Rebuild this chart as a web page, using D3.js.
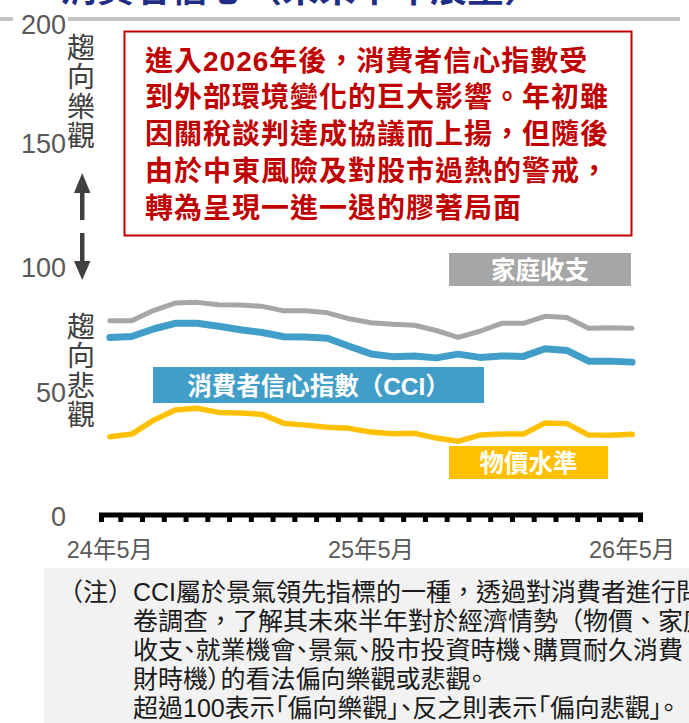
<!DOCTYPE html>
<html>
<head>
<meta charset="utf-8">
<script src="https://cdn.jsdelivr.net/npm/d3@7"></script>
<style>
  body { margin: 0; background: #fff; }
  svg { display: block; font-family: "Liberation Sans", "Noto Sans CJK TC", sans-serif; }
</style>
</head>
<body>
<div id="chart"></div>
<script>
// monthly points, 24年5月 .. 26年5月
const months = [
  "24年5月", "24年6月", "24年7月", "24年8月", "24年9月", "24年10月", "24年11月", "24年12月",
  "25年1月", "25年2月", "25年3月", "25年4月", "25年5月", "25年6月", "25年7月", "25年8月",
  "25年9月", "25年10月", "25年11月", "25年12月", "26年1月", "26年2月", "26年3月", "26年4月", "26年5月"
];
const tickMonths = ["24年5月", "25年5月", "26年5月"];
const yTicks = [0, 50, 100, 150, 200];

const household = [78.8, 78.8, 82.9, 85.9, 86.2, 85.2, 85.1, 84.6, 82.8, 82.8, 82.0, 79.6, 78.0,
  77.4, 77.0, 74.9, 72.1, 74.6, 77.8, 77.8, 80.6, 80.1, 75.8, 76.0, 75.8];
const cci = [72.1, 72.5, 75.5, 77.8, 77.8, 76.6, 75.2, 74.1, 72.4, 72.3, 71.8, 68.6, 65.5,
  64.4, 64.7, 63.9, 65.4, 64.1, 64.7, 64.5, 67.6, 66.9, 62.6, 62.6, 62.2];
const prices = [32.2, 33.3, 38.8, 43.0, 43.7, 42.0, 41.8, 41.2, 37.6, 36.9, 36.0, 35.6, 34.1,
  33.4, 33.6, 31.7, 30.4, 32.9, 33.3, 33.3, 37.8, 37.5, 32.9, 32.8, 33.2];

const seriesNames = ["家庭收支", "消費者信心指數（CCI）", "物價水準"];
const upLabel = ["趨", "向", "樂", "觀"];
const downLabel = ["趨", "向", "悲", "觀"];

const titleText = "消費者信心（未來半年展望）";
const calloutLines = [
  "進入2026年後，消費者信心指數受",
  "到外部環境變化的巨大影響。年初雖",
  "因關稅談判達成協議而上揚，但隨後",
  "由於中東風險及對股市過熱的警戒，",
  "轉為呈現一進一退的膠著局面"
];
const noteLines = [
  "（注）CCI屬於景氣領先指標的一種，透過對消費者進行問",
  "卷調查，了解其未來半年對於經濟情勢（物價、家庭",
  "收支、就業機會、景氣、股市投資時機、購買耐久消費",
  "財時機）的看法偏向樂觀或悲觀。",
  "超過100表示「偏向樂觀」、反之則表示「偏向悲觀」。"
];

var width = 689, height = 723;
var svg = d3.select("#chart").append("svg")
  .attr("width", width)
  .attr("height", height);

// title, mostly above the top edge
svg.append("text")
  .attr("x", 60).attr("y", 2)
  .attr("font-size", 37).attr("font-weight", "bold")
  .attr("fill", "#1f2d86")
  .text(titleText);

var x = d3.scaleBand().domain(months).range([99, 643]);
var y = d3.scaleLinear().domain([0, 200]).range([517, 19]);
var cx = function (i) { return x(months[i]) + x.bandwidth() / 2; };

// top gridline
svg.append("line")
  .attr("x1", 0).attr("x2", 680)
  .attr("y1", y(200)).attr("y2", y(200))
  .attr("stroke", "#c4c4c4").attr("stroke-width", 4);

// y tick labels
var yAxis = svg.append("g")
  .attr("transform", "translate(66,0)")
  .call(d3.axisLeft(y).tickValues(yTicks).tickSize(0).tickPadding(0));
yAxis.select(".domain").remove();
yAxis.selectAll("text")
  .attr("font-size", 27)
  .attr("font-family", "Liberation Sans, sans-serif")
  .attr("fill", "#595959");
var topTick = yAxis.selectAll(".tick").filter(function (d) { return d === 200; });
topTick.select("text").attr("y", 6);
topTick.insert("rect", "text")
  .attr("x", -53).attr("y", -6).attr("width", 55).attr("height", 30)
  .attr("fill", "#fff");

// vertical side labels
svg.append("g").selectAll("text")
  .data(upLabel).join("text")
  .attr("x", 81).attr("y", function (d, i) { return 48 + i * 29.6; })
  .attr("text-anchor", "middle").attr("dominant-baseline", "central")
  .attr("font-size", 28).attr("fill", "#404040")
  .text(function (d) { return d; });
svg.append("g").selectAll("text")
  .data(downLabel).join("text")
  .attr("x", 81).attr("y", function (d, i) { return 327 + i * 29.6; })
  .attr("text-anchor", "middle").attr("dominant-baseline", "central")
  .attr("font-size", 28).attr("fill", "#404040")
  .text(function (d) { return d; });

// arrows
svg.append("rect").attr("x", 80).attr("y", 190).attr("width", 4.5).attr("height", 30).attr("fill", "#404040");
svg.append("path").attr("d", "M82.2,173 L90.5,193 L74,193 Z").attr("fill", "#404040");
svg.append("rect").attr("x", 80).attr("y", 233).attr("width", 4.5).attr("height", 31).attr("fill", "#404040");
svg.append("path").attr("d", "M82.2,280 L90.5,261 L74,261 Z").attr("fill", "#404040");

// x axis: thick baseline with square ticks at month boundaries
var bounds = months.map(function (m) { return x(m); }).concat([x.range()[1]]);
svg.append("line")
  .attr("x1", x.range()[0]).attr("x2", x.range()[1])
  .attr("y1", y(0) - 2).attr("y2", y(0) - 2)
  .attr("stroke", "#000").attr("stroke-width", 5);
svg.append("g").selectAll("rect")
  .data(bounds).join("rect")
  .attr("x", function (d, i) { return i === 0 ? d : (i === bounds.length - 1 ? d - 5 : d - 2.5); })
  .attr("y", y(0) - 2)
  .attr("width", 5).attr("height", 7)
  .attr("fill", "#000");

var xAxis = svg.append("g")
  .attr("transform", "translate(0,541)")
  .call(d3.axisBottom(x).tickValues(tickMonths).tickSize(0).tickPadding(0));
xAxis.select(".domain").remove();
xAxis.selectAll("text")
  .attr("font-size", 23.5)
  .attr("font-family", "Liberation Sans, Noto Sans CJK TC, sans-serif")
  .attr("fill", "#595959");

// lines
var line = d3.line()
  .x(function (d, i) { return cx(i); })
  .y(function (d) { return y(d); });

svg.append("path").datum(household)
  .attr("d", line).attr("fill", "none")
  .attr("stroke", "#a6a6a6").attr("stroke-width", 5)
  .attr("stroke-linecap", "round").attr("stroke-linejoin", "round");
svg.append("path").datum(cci)
  .attr("d", line).attr("fill", "none")
  .attr("stroke", "#419ec8").attr("stroke-width", 7)
  .attr("stroke-linecap", "round").attr("stroke-linejoin", "round");
svg.append("path").datum(prices)
  .attr("d", line).attr("fill", "none")
  .attr("stroke", "#ffc000").attr("stroke-width", 5.5)
  .attr("stroke-linecap", "round").attr("stroke-linejoin", "round");

// series labels
var tags = [
  { name: seriesNames[0], color: "#a6a6a6", x: 449, y: 253, w: 182, h: 33 },
  { name: seriesNames[1], color: "#419ec8", x: 153, y: 367, w: 331, h: 36 },
  { name: seriesNames[2], color: "#ffc000", x: 449, y: 446, w: 159, h: 33 }
];
var tag = svg.append("g").selectAll("g").data(tags).join("g");
tag.append("rect")
  .attr("x", function (d) { return d.x; }).attr("y", function (d) { return d.y; })
  .attr("width", function (d) { return d.w; }).attr("height", function (d) { return d.h; })
  .attr("fill", function (d) { return d.color; });
tag.append("text")
  .attr("x", function (d) { return d.x + d.w / 2; })
  .attr("y", function (d) { return d.y + d.h / 2 + 1; })
  .attr("text-anchor", "middle").attr("dominant-baseline", "central")
  .attr("font-size", 24.5).attr("font-weight", "bold").attr("fill", "#fff")
  .text(function (d) { return d.name; });

// callout box
svg.append("rect")
  .attr("x", 124.5).attr("y", 31.5).attr("width", 507).attr("height", 204)
  .attr("fill", "#fff").attr("stroke", "#c00000").attr("stroke-width", 2);
svg.append("g").selectAll("text")
  .data(calloutLines).join("text")
  .attr("x", 145).attr("y", function (d, i) { return 61 + i * 36.8; })
  .attr("dominant-baseline", "central")
  .attr("font-size", 28).attr("font-weight", "bold")
  .attr("letter-spacing", 1)
  .attr("fill", "#c00000")
  .text(function (d) { return d; });

// note panel (text runs past the right edge, as in the source)
svg.append("rect")
  .attr("x", 44).attr("y", 568).attr("width", 645).attr("height", 155)
  .attr("fill", "#f2f2f2");
svg.append("g").selectAll("text")
  .data(noteLines).join("text")
  .attr("x", function (d, i) { return i === 0 ? 58 : 133; })
  .attr("y", function (d, i) { return 592 + i * 29; })
  .attr("dominant-baseline", "central")
  .attr("font-size", 25).attr("fill", "#1a1a1a")
  .style("font-feature-settings", function (d, i) { return i < 2 ? "normal" : "'palt'"; })
  .text(function (d) { return d; });
</script>
</body>
</html>
